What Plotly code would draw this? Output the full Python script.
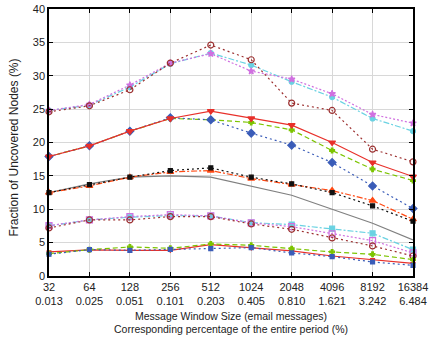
import plotly.graph_objects as go

# Message window sizes (x categories) and their share of the whole period
window_sizes = ["32", "64", "128", "256", "512", "1024", "2048", "4096", "8192", "16384"]
period_pct = ["0.013", "0.025", "0.051", "0.101", "0.203", "0.405", "0.810", "1.621", "3.242", "6.484"]
y_ticks = [0, 5, 10, 15, 20, 25, 30, 35, 40]

# Fraction of uncovered nodes (%) per configuration
hi_circle = [24.6, 25.5, 27.9, 31.9, 34.6, 32.4, 25.9, 24.8, 19.0, 17.1]
hi_star = [24.8, 25.7, 28.6, 31.9, 33.3, 30.7, 29.5, 27.3, 24.2, 22.9]
hi_dashdot = [24.8, 25.6, 28.3, 31.8, 33.4, 31.6, 29.1, 26.8, 23.6, 21.7]

mid_red = [17.9, 19.5, 21.7, 23.6, 24.7, 23.6, 22.6, 20.0, 17.0, 14.9]
mid_green = [17.9, 19.5, 21.7, 23.6, 23.4, 23.0, 21.9, 18.8, 16.0, 14.3]
mid_blue = [17.9, 19.5, 21.7, 23.7, 23.4, 21.4, 19.6, 17.0, 13.5, 10.1]

c_gray = [12.5, 13.8, 14.8, 15.0, 14.8, 13.5, 12.1, 10.0, 7.9, 5.4]
c_orange = [12.5, 13.5, 14.8, 15.6, 15.8, 14.6, 13.7, 12.8, 11.3, 8.5]
c_black = [12.5, 13.7, 14.8, 15.8, 16.2, 14.8, 13.8, 12.5, 10.5, 8.2]

lo_square = [7.55, 8.4, 8.9, 9.2, 9.0, 7.95, 7.4, 6.3, 5.3, 3.45]
lo_dashdot = [7.5, 8.4, 8.8, 9.05, 9.0, 8.0, 7.7, 7.1, 6.4, 3.95]
lo_circle = [7.2, 8.4, 8.4, 8.9, 8.9, 7.8, 7.0, 5.7, 4.5, 3.0]

b_red = [3.6, 3.9, 3.85, 3.85, 4.7, 4.2, 3.75, 3.0, 2.45, 1.9]
b_green = [3.35, 3.95, 4.35, 4.15, 4.8, 4.6, 4.1, 3.6, 3.25, 2.45]
b_blue = [3.26, 3.95, 3.85, 4.0, 4.1, 4.25, 3.45, 2.9, 2.1, 1.6]

BROWN = "#9c3030"
MAGENTA = "#d070e0"
CYAN = "#6ad2e2"
RED = "#e8302a"
GREEN = "#7cc400"
BLUE = "#3a5cb8"
GRAY = "#808080"
ORANGE = "#ff4a14"
BLACK = "#111111"

xs = list(range(len(window_sizes)))

series = [
    (c_gray, GRAY, "solid", None, 0),
    (c_orange, ORANGE, "6px,2px,2px,2px", "triangle-up", 6),
    (c_black, BLACK, "2px,3px", "square", 4),
    (hi_dashdot, CYAN, "6px,2px,2px,2px", "circle", 5),
    (hi_star, MAGENTA, "2px,2px", "star", 5),
    (hi_circle, BROWN, "2px,3px", "circle-open", 6),
    (lo_dashdot, CYAN, "6px,2px,2px,2px", "square", 5),
    (lo_square, MAGENTA, "2px,2px", "square-open", 6),
    (lo_circle, BROWN, "2px,3px", "circle-open", 6),
    (mid_green, GREEN, "5px,3px", "cross", 4),
    (mid_blue, BLUE, "2px,3px", "diamond", 6),
    (mid_red, RED, "solid", "triangle-down", 6),
    (b_red, RED, "solid", "triangle-down", 4),
    (b_green, GREEN, "5px,3px", "cross", 4),
    (b_blue, BLUE, "2px,3px", "square", 4),
]

fig = go.Figure()
for ys, color, dash, symbol, size in series:
    mode = "lines+markers" if symbol else "lines"
    marker = dict(symbol=symbol, size=size, color=color,
                  line=dict(color=color, width=1.2)) if symbol else None
    fig.add_trace(go.Scatter(
        x=xs, y=ys, mode=mode,
        line=dict(color=color, width=1.2, dash=dash),
        marker=marker, cliponaxis=False, showlegend=False,
    ))

ticktext = [f"{w}<br>{p}" for w, p in zip(window_sizes, period_pct)]
font = dict(family="Liberation Sans, Arial, sans-serif", size=11, color="#222")

fig.update_layout(
    width=431, height=340,
    margin=dict(l=49, r=3, t=6, b=64),
    paper_bgcolor="white", plot_bgcolor="white",
    font=font,
    xaxis=dict(
        range=[0, 9], tickmode="array", tickvals=xs, ticktext=ticktext,
        ticklabeloverflow="allow",
        showgrid=True, gridcolor="#d8d8d8", gridwidth=1,
        minor=dict(tickvals=xs, showgrid=True, gridcolor="#555", griddash="dot", gridwidth=1),
        showline=True, linecolor="black", linewidth=1.5, mirror="ticks",
        ticks="inside", ticklen=4, tickcolor="black", zeroline=False,
        title=dict(text="Message Window Size (email messages)<br>Corresponding percentage of the entire period (%)",
                   font=dict(size=10.5), standoff=6),
    ),
    yaxis=dict(
        range=[0, 40], tickmode="array", tickvals=y_ticks,
        ticktext=[str(v) for v in y_ticks], ticklabeloverflow="allow",
        showgrid=True, gridcolor="#d8d8d8", gridwidth=1,
        minor=dict(tickvals=y_ticks[1:-1], showgrid=True, gridcolor="#555", griddash="dot", gridwidth=1),
        showline=True, linecolor="black", linewidth=1.5, mirror="ticks",
        ticks="inside", ticklen=4, tickcolor="black", zeroline=False,
    ),
    annotations=[dict(
        text="Fraction of Uncovered Nodes (%)", textangle=-90,
        xref="paper", yref="paper", x=-0.097, y=0.48,
        xanchor="center", yanchor="middle", showarrow=False,
        font=dict(size=12),
    )],
)

fig.write_html("out.html")
